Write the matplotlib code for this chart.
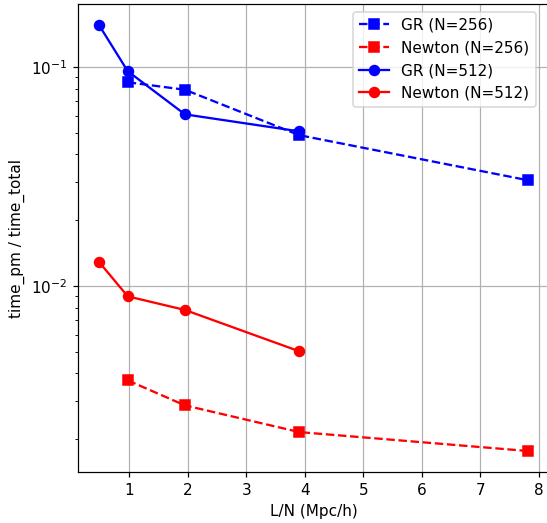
import matplotlib
matplotlib.use("Agg")
import matplotlib.pyplot as plt

# L/N (Mpc/h) for the two grid sizes
x_256 = [250 / 256, 500 / 256, 1000 / 256, 2000 / 256]
x_512 = [250 / 512, 500 / 512, 1000 / 512, 2000 / 512]

# time_pm / time_total
gr_256 = [0.0855, 0.079, 0.049, 0.0305]
newton_256 = [0.00372, 0.00286, 0.00216, 0.00177]
gr_512 = [0.1556, 0.096, 0.061, 0.051]
newton_512 = [0.0129, 0.009, 0.0078, 0.00505]

dpi = 110
fig = plt.figure(figsize=(547 / dpi, 523 / dpi), dpi=dpi)
# axes box in pixels (the reference is cropped just inside the right spine)
left, right, top, bottom = 77.7, 549.5, 4.0, 472.3
ax = fig.add_axes([left / 547, (523 - bottom) / 523,
                   (right - left) / 547, (bottom - top) / 523])

ax.plot(x_256, gr_256, 's--', color='blue', markersize=6.5, label='GR (N=256)')
ax.plot(x_256, newton_256, 's--', color='red', markersize=6.5, label='Newton (N=256)')
ax.plot(x_512, gr_512, 'o-', color='blue', markersize=6.5, label='GR (N=512)')
ax.plot(x_512, newton_512, 'o-', color='red', markersize=6.5, label='Newton (N=512)')

ax.set_yscale('log')
ax.set_xlabel('L/N (Mpc/h)')
ax.set_ylabel('time_pm / time_total')
ax.grid(True)
ax.legend(loc='upper right', bbox_to_anchor=(0.987, 1.0))

fig.savefig('out.png', dpi=dpi)
